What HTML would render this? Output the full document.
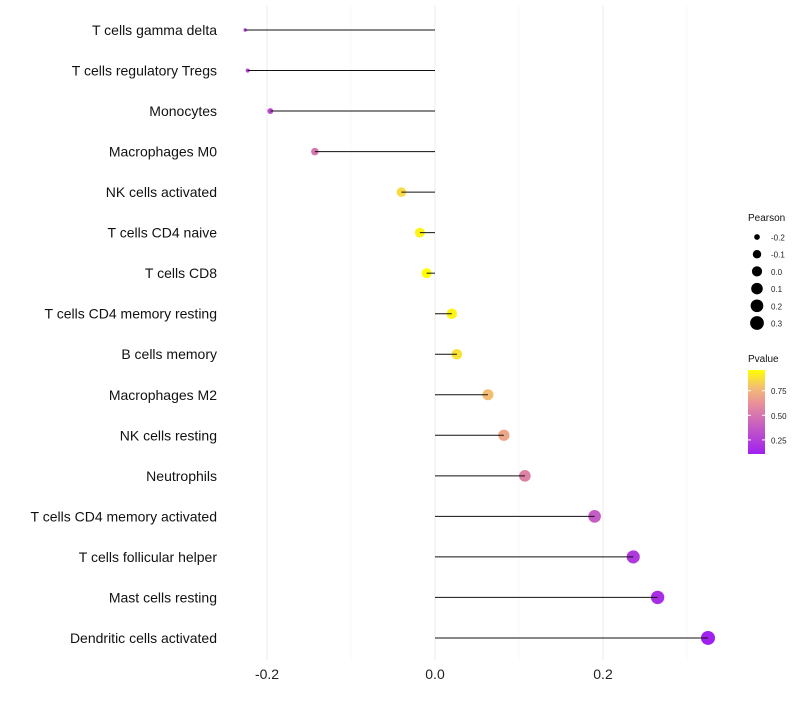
<!DOCTYPE html>
<html><head><meta charset="utf-8"><style>
body{margin:0;background:#fff;font-family:"Liberation Sans",sans-serif}
</style></head><body>
<svg id="chart" width="800" height="700" xmlns="http://www.w3.org/2000/svg">
<defs><linearGradient id="pg" x1="0" y1="1" x2="0" y2="0">
<stop offset="0" stop-color="#a020f0"/><stop offset="0.35" stop-color="#c860c0"/><stop offset="0.6" stop-color="#e8909a"/><stop offset="0.8" stop-color="#f4c070"/><stop offset="1" stop-color="#ffff00"/>
</linearGradient></defs>
<g id="grid"></g><g id="points"></g><g id="marks"></g><g id="labels"></g><g id="legend"></g>
</svg>
<script>
const categories=["T cells gamma delta","T cells regulatory  Tregs","Monocytes","Macrophages M0","NK cells activated","T cells CD4 naive","T cells CD8","T cells CD4 memory resting","B cells memory","Macrophages M2","NK cells resting","Neutrophils","T cells CD4 memory activated","T cells follicular helper","Mast cells resting","Dendritic cells activated"];
const pearson=[-0.226,-0.223,-0.196,-0.143,-0.040,-0.018,-0.010,0.020,0.026,0.063,0.082,0.107,0.190,0.236,0.265,0.325];
const pvalues=[0.25,0.28,0.3,0.5,0.86,0.93,0.96,0.93,0.88,0.78,0.7,0.55,0.38,0.22,0.17,0.1];
const xTicks=[-0.2,0,0.2];
const xTickLabels=["-0.2","0.0","0.2"];
const minorTicks=[-0.1,0.1,0.3];
const sizeLegend=[-0.2,-0.1,0.0,0.1,0.2,0.3];
const sizeLegendLabels=["-0.2","-0.1","0.0","0.1","0.2","0.3"];
const colorLegend=[0.25,0.5,0.75];
const colorLegendLabels=["0.25","0.50","0.75"];
const NS="http://www.w3.org/2000/svg";
const x=v=>435+v*840;
const y=i=>30+i*40.53;
const sMin=-0.226,sMax=0.325;
const r=v=>1.7+5.3*Math.sqrt(Math.max(0,(v-sMin)/(sMax-sMin)));
const pMin=0.107,pMax=0.96;
const stops=[[0,[160,32,240]],[0.35,[200,96,192]],[0.6,[232,144,154]],[0.8,[244,192,112]],[1,[255,255,0]]];
function col(p){let t=Math.max(0,Math.min(1,(p-pMin)/(pMax-pMin)));for(let k=1;k<stops.length;k++){if(t<=stops[k][0]){const a=stops[k-1],b=stops[k];const f=(t-a[0])/(b[0]-a[0]);return`rgb(${a[1].map((c,j)=>Math.round(c+(b[1][j]-c)*f)).join(',')})`;}}return'rgb(255,255,0)';}
function mk(tag,attrs,parent,text){const e=document.createElementNS(NS,tag);for(const k in attrs)e.setAttribute(k,attrs[k]);if(text!==undefined)e.textContent=text;parent.appendChild(e);return e;}
const grid=document.getElementById('grid'),points=document.getElementById('points'),marks=document.getElementById('marks'),labels=document.getElementById('labels'),legend=document.getElementById('legend');
minorTicks.forEach(v=>{const e=mk('line',{x1:x(v),x2:x(v),y1:5,y2:660,stroke:'#f3f3f3','stroke-width':0.6},grid);

});
xTicks.forEach((v,i)=>{const e=mk('line',{x1:x(v),x2:x(v),y1:5,y2:660,stroke:'#ebebeb','stroke-width':1},grid);


const t=mk('text',{x:x(v),y:679,'text-anchor':'middle','font-size':14,fill:'#222'},labels,xTickLabels[i]);

});
categories.forEach((c,i)=>{const t=mk('text',{x:217,y:y(i)+5,'text-anchor':'end','font-size':14,fill:'#111'},labels,c);


const p=mk('circle',{cx:x(pearson[i]),cy:y(i),r:r(pearson[i]),fill:col(pvalues[i])},points);


const l=mk('line',{x1:x(0),x2:x(pearson[i]),y1:y(i),y2:y(i),stroke:'#111','stroke-width':1},marks);

});
const lt=mk('text',{x:748,y:221,'font-size':10,fill:'#111'},legend,'Pearson');


sizeLegend.forEach((v,i)=>{const cy=237+i*17.2;const c=mk('circle',{cx:757,cy:cy,r:r(v),fill:'#000'},legend);


const t=mk('text',{x:771,y:cy+3.5,'font-size':8,fill:'#222'},legend,sizeLegendLabels[i]);

});
const ct=mk('text',{x:748,y:362,'font-size':10,fill:'#111'},legend,'Pvalue');


const bar=mk('rect',{x:748,y:370,width:17,height:84,fill:'url(#pg)'},legend);


const cy=p=>454-(p-pMin)/(pMax-pMin)*84;
colorLegend.forEach((v,i)=>{mk('line',{x1:748,x2:751,y1:cy(v),y2:cy(v),stroke:'#fff'},legend);mk('line',{x1:762,x2:765,y1:cy(v),y2:cy(v),stroke:'#fff'},legend);
const t=mk('text',{x:771,y:cy(v)+3.5,'font-size':8,fill:'#222'},legend,colorLegendLabels[i]);

});
</script>
</body></html>
